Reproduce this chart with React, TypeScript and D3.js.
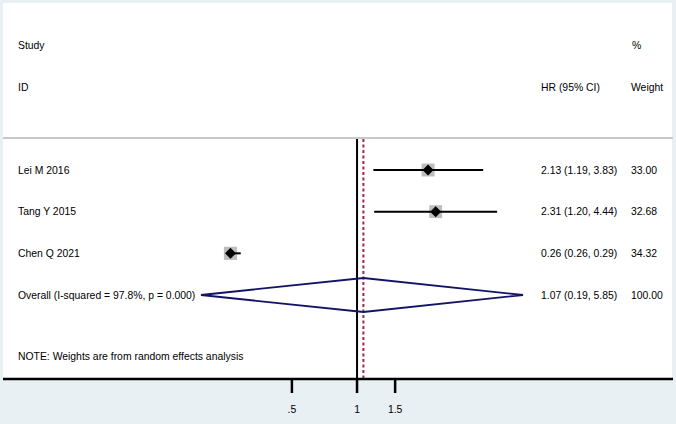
import React from "react";
import * as d3 from "d3";

const studies = ["Lei M 2016", "Tang Y 2015", "Chen Q 2021"];
const hr = [2.13, 2.31, 0.26];
const lower = [1.19, 1.2, 0.26];
const upper = [3.83, 4.44, 0.29];
const weights = [33.0, 32.68, 34.32];

const overallLabel = "Overall  (I-squared = 97.8%, p = 0.000)";
const overall = { hr: 1.07, lo: 0.19, hi: 5.85, weight: 100.0 };

const tickValues = [0.5, 1, 1.5];
const tickLabels = [".5", "1", "1.5"];
const note = "NOTE: Weights are from random effects analysis";

export default function App() {
  const width = 676;
  const height = 424;
  const font = "'Liberation Sans', Arial, sans-serif";
  const fs = 10.4;

  const x = d3.scaleLog().domain([overall.lo, overall.hi]).range([201, 523]);
  const rows = [...studies, "overall"];
  const y = d3.scalePoint<string>().domain(rows).range([170, 295]);
  const box = d3.scaleSqrt().domain([0, d3.max(weights) as number]).range([0, 13.2]);

  const fmt = d3.format(".2f");
  const ciText = (h: number, l: number, u: number) => `${fmt(h)} (${fmt(l)}, ${fmt(u)})`;

  const top = 138;
  const axisY = 379;
  const oy = y("overall") as number;
  const diamond = [
    [x(overall.lo), oy],
    [x(overall.hr), oy - 17],
    [x(overall.hi), oy],
    [x(overall.hr), oy + 17],
  ];

  return (
    <svg
      width={width}
      height={height}
      style={{ position: "absolute", left: 0, top: 0, background: "#e8f0f3" }}
      fontFamily={font}
      fontSize={fs}
    >
      <rect x={3} y={3} width={669} height={axisY - 3} fill="#fff" />
      <line x1={3} x2={673} y1={top} y2={top} stroke="#c8c8c8" strokeWidth={2} />

      {/* header */}
      <text x={18} y={45} dy="0.35em">Study</text>
      <text x={18} y={87} dy="0.35em">ID</text>
      <text x={632} y={45} dy="0.35em">%</text>
      <text x={541} y={87} dy="0.35em">HR (95% CI)</text>
      <text x={631} y={87} dy="0.35em">Weight</text>

      {/* reference lines */}
      <line x1={x(1)} x2={x(1)} y1={top + 1} y2={axisY} stroke="#000" strokeWidth={2} />
      <line
        x1={x(overall.hr)}
        x2={x(overall.hr)}
        y1={top + 1}
        y2={axisY}
        stroke="#9a2a48"
        strokeWidth={2}
        strokeDasharray="3,2.5"
      />

      {/* studies */}
      {studies.map((s, i) => {
        const cy = y(s) as number;
        const cx = x(hr[i]);
        const b = box(weights[i]);
        return (
          <g key={s}>
            <text x={18} y={cy} dy="0.35em">{s}</text>
            <rect x={cx - b / 2} y={cy - b / 2} width={b} height={b} fill="#bdbdbd" />
            <line x1={x(lower[i])} x2={x(upper[i])} y1={cy} y2={cy} stroke="#000" strokeWidth={2} />
            <path
              d={`M${cx - 5.5},${cy}L${cx},${cy - 5.5}L${cx + 5.5},${cy}L${cx},${cy + 5.5}Z`}
              fill="#000"
            />
            <text x={541} y={cy} dy="0.35em">{ciText(hr[i], lower[i], upper[i])}</text>
            <text x={631} y={cy} dy="0.35em">{fmt(weights[i])}</text>
          </g>
        );
      })}

      {/* overall */}
      <text x={18} y={oy} dy="0.35em">{overallLabel}</text>
      <path
        d={d3.line()(diamond as [number, number][]) + "Z"}
        fill="none"
        stroke="#141466"
        strokeWidth={1.8}
      />
      <text x={541} y={oy} dy="0.35em">{ciText(overall.hr, overall.lo, overall.hi)}</text>
      <text x={631} y={oy} dy="0.35em">{fmt(overall.weight)}</text>

      <text x={18} y={356} dy="0.35em">{note}</text>

      {/* axis */}
      <line x1={3} x2={673} y1={axisY} y2={axisY} stroke="#000" strokeWidth={2.5} />
      {tickValues.map((t, i) => (
        <g key={t}>
          <line x1={x(t)} x2={x(t)} y1={axisY} y2={axisY + 14} stroke="#000" strokeWidth={2.5} />
          <text x={x(t)} y={409} dy="0.35em" textAnchor="middle">{tickLabels[i]}</text>
        </g>
      ))}
    </svg>
  );
}
